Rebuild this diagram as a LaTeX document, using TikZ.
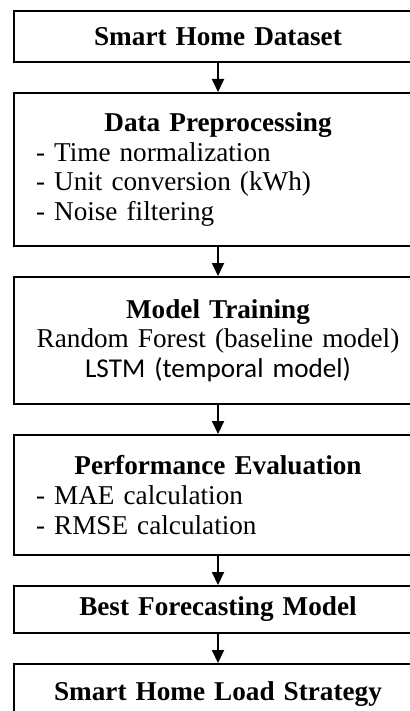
\documentclass[tikz,border=0pt]{standalone}
\usepackage{fontspec}
\setmainfont{Liberation Serif}
\newfontfamily\calibri{Carlito}
\usetikzlibrary{positioning,arrows.meta}
\begin{document}
\begin{tikzpicture}[node distance = 14.5pt,
    main/.style = {draw, line width=1pt, minimum width=204pt, inner xsep=9pt,
      text width=186pt, font=\fontsize{13.6}{14.8}\selectfont},
    list/.style = {main, align=left, inner xsep=11pt, text width=182pt},
    arrow/.style = {-{Triangle[length=6.5pt,width=6pt]}, line width=1pt}]
  \useasboundingbox (0,0) rectangle (204.5pt,-355.5pt);
  \node[main, align=center, minimum height=25.5pt] (data) at (109pt,-18.25pt) {\textbf{Smart Home Dataset}};
  \node[list, minimum height=76.5pt] (prep) [below = of data]
    {{\centering\bfseries Data Preprocessing\par}- Time normalization\\- Unit conversion (kWh)\\- Noise filtering};
  \node[main, align=center, minimum height=63.5pt] (train) [below = of prep]
    {\textbf{Model Training}\\Random Forest (baseline model)\\{\calibri LSTM (temporal model)}};
  \node[list, minimum height=60pt] (eval) [below = of train]
    {{\centering\bfseries Performance Evaluation\par}- MAE calculation\\- RMSE calculation};
  \node[main, align=center, minimum height=23.5pt] (best) [below = of eval] {\textbf{Best Forecasting Model}};
  \node[main, align=center, minimum height=30pt] (strategy) [below = of best] {\textbf{Smart Home Load Strategy}};
  \draw[arrow] (data) -- (prep);
  \draw[arrow] (prep) -- (train);
  \draw[arrow] (train) -- (eval);
  \draw[arrow] (eval) -- (best);
  \draw[arrow] (best) -- (strategy);
\end{tikzpicture}
\end{document}
